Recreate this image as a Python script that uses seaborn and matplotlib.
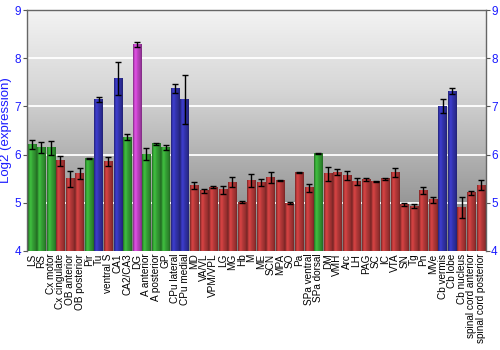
import numpy as np
import pandas as pd
import matplotlib
matplotlib.use("Agg")
import matplotlib.pyplot as plt
import matplotlib.colors as mcolors
import seaborn as sns

regions = ["LS", "RS", "Cx motor", "Cx cingulate", "OB anterior", "OB posterior", "Pir", "Tu",
           "ventral S", "CA1", "CA2/CA3", "DG", "A anterior", "A posterior", "GP", "CPu lateral",
           "CPu medial", "MD", "VA/VL", "VPM/VPL", "LG", "MG", "Hb", "M", "ME", "SCN", "MPA",
           "SO", "Pa", "SPa ventral", "SPa dorsal", "DM", "VMH", "Arc", "LH", "PAG", "SC", "IC",
           "VTA", "SN", "Tg", "Pn", "MVe", "Cb vermis", "Cb lobe", "Cb nucleus",
           "spinal cord anterior", "spinal cord posterior"]
expression = [6.21, 6.15, 6.14, 5.87, 5.50, 5.61, 5.92, 7.14,
              5.86, 7.58, 6.36, 8.29, 6.01, 6.23, 6.15, 7.37,
              7.14, 5.36, 5.25, 5.32, 5.27, 5.43, 5.01, 5.46, 5.42, 5.53, 5.46,
              4.99, 5.62, 5.31, 6.03, 5.60, 5.64, 5.57, 5.44, 5.48, 5.44, 5.50,
              5.63, 4.97, 4.93, 5.25, 5.06, 7.01, 7.32, 4.90,
              5.21, 5.37]
error = [0.10, 0.12, 0.14, 0.11, 0.17, 0.12, 0.02, 0.05,
         0.09, 0.35, 0.06, 0.05, 0.13, 0.02, 0.06, 0.10,
         0.51, 0.08, 0.04, 0.02, 0.08, 0.10, 0.02, 0.13, 0.08, 0.11, 0.01,
         0.02, 0.01, 0.08, 0.01, 0.14, 0.06, 0.09, 0.07, 0.03, 0.01, 0.02,
         0.09, 0.03, 0.04, 0.07, 0.06, 0.15, 0.06, 0.21,
         0.04, 0.10]
group = ["g", "g", "g", "r", "r", "r", "g", "b",
         "r", "b", "g", "m", "g", "g", "g", "b",
         "b"] + ["r"] * 13 + ["g"] + ["r"] * 12 + ["b", "b", "r", "r", "r"]
group_colors = {"g": "#36a336", "r": "#b83a3a", "b": "#3434b0", "m": "#c044c4"}

df = pd.DataFrame({"region": regions, "expr": expression, "err": error, "grp": group})

sns.set_style("white")
plt.rcParams['font.family'] = ['Liberation Sans', 'DejaVu Sans']

fig = plt.figure(figsize=(5, 3.5), dpi=100)
ax = fig.add_axes([0.054, 0.283, 0.917, 0.688])

palette = [group_colors[g] for g in group]
sns.barplot(data=df, x="region", y="expr", hue="region", palette=palette, legend=False,
            width=0.88, ax=ax, zorder=2, linewidth=0)
YMIN, YMAX = 4, 9

# background gradient
bg = np.linspace(0, 1, 256).reshape(-1, 1)
bg_cmap = mcolors.LinearSegmentedColormap.from_list("bg", ["#7c7c7c", "#a9a9a9", "#d6d6d6", "#f3f3f3"])
ax.imshow(bg, cmap=bg_cmap, aspect="auto", extent=[0, 1, 0, 1], transform=ax.transAxes,
          origin="lower", zorder=0)

# bar shading
profile = np.array([0.72, 0.95, 1.12, 1.15, 1.08, 1.0, 0.95, 0.9, 0.85, 0.78, 0.68])
for patch, g in zip(ax.patches, group):
    base = np.array(mcolors.to_rgb(group_colors[g]))
    img = np.clip(base[None, :] * profile[:, None], 0, 1)[None, :, :]
    x0 = patch.get_x()
    w, h = patch.get_width(), patch.get_height()
    top = patch.get_y() + h
    ax.imshow(img, aspect="auto", extent=[x0, x0 + w, YMIN, top], zorder=2.5,
              interpolation="bilinear")
ax.set_xlim(-0.5, len(regions) - 0.5)
ax.set_ylim(YMIN, YMAX)

ax.errorbar(np.arange(len(regions)), df["expr"], yerr=df["err"], fmt="none",
            ecolor="black", elinewidth=1, capsize=2, capthick=1, zorder=4)

for yv in [5, 6, 7, 8]:
    ax.axhline(yv, color="white", lw=1.3, zorder=1)

ax.set_yticks([4, 5, 6, 7, 8, 9])
ax.tick_params(axis="y", which="both", left=True, right=True, labelleft=True, labelright=True,
               labelcolor="#1a1aff", labelsize=8.5, length=3, color="#555555", direction="out", pad=1)
ax.tick_params(axis="x", labelsize=7.2, labelrotation=90, length=0, pad=2, labelcolor="black")
ax.set_xlabel("")
ax.set_ylabel("Log2 (expression)", color="#1a1aff", fontsize=9.5, labelpad=2)

for side in ["left", "top", "right"]:
    ax.spines[side].set_visible(True)
    ax.spines[side].set_color("#666666")
    ax.spines[side].set_linewidth(1)
ax.spines["bottom"].set_visible(False)

fig.savefig("out.png", dpi=100)
